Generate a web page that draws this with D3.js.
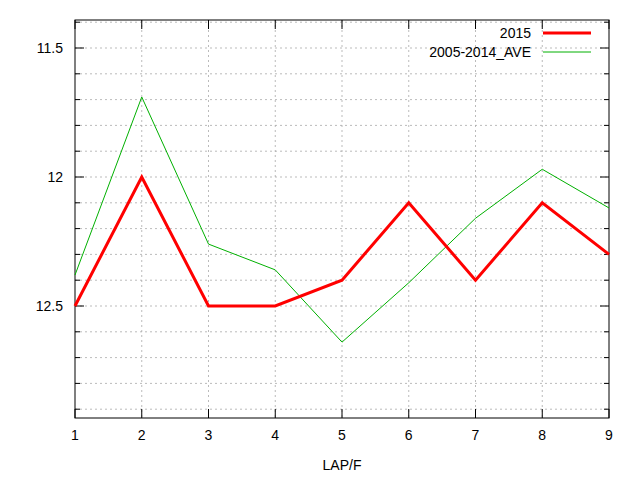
<!DOCTYPE html>
<html><head><meta charset="utf-8">
<script src="https://cdn.jsdelivr.net/npm/d3@7"></script>
<style>body{margin:0;background:#fff}</style></head>
<body><svg id="c" width="640" height="480"></svg>
<script>
const laps=[1,2,3,4,5,6,7,8,9];
const s2015=[12.5,12.0,12.5,12.5,12.4,12.1,12.4,12.1,12.3];
const sAve=[12.38,11.69,12.26,12.36,12.64,12.41,12.16,11.97,12.12];
const yTicks=[11.5,12,12.5];
const yGrid=d3.range(11.4,12.95,0.1).map(v=>+v.toFixed(1));
const svg=d3.select("#c");
const L=75,R=609,T=20,B=418;
const x=d3.scaleLinear().domain([1,9]).range([L,R]);
const y=d3.scaleLinear().domain([11.5,12.5]).range([48,306]);
const g=svg.append("g").attr("font-family","Liberation Sans, Arial").attr("font-size",14);
yGrid.filter(v=>y(v)>T&&y(v)<B).forEach(v=>{
 g.append("line").attr("x1",L).attr("x2",R).attr("y1",y(v)).attr("y2",y(v)).attr("stroke","#aaa").attr("stroke-dasharray","2,3").attr("stroke-width",0.8);
 const len=yTicks.includes(v)?9:5;
 g.append("line").attr("x1",L).attr("x2",L+len).attr("y1",y(v)).attr("y2",y(v)).attr("stroke","#000");
 g.append("line").attr("x1",R).attr("x2",R-len).attr("y1",y(v)).attr("y2",y(v)).attr("stroke","#000");
});
laps.forEach(v=>{
 if(v>1&&v<9) g.append("line").attr("x1",x(v)).attr("x2",x(v)).attr("y1",T).attr("y2",B).attr("stroke","#aaa").attr("stroke-dasharray","2,3").attr("stroke-width",0.8);
 g.append("line").attr("x1",x(v)).attr("x2",x(v)).attr("y1",B).attr("y2",B-9).attr("stroke","#000");
 g.append("line").attr("x1",x(v)).attr("x2",x(v)).attr("y1",T).attr("y2",T+9).attr("stroke","#000");
 g.append("text").attr("x",x(v)).attr("y",B+22).attr("text-anchor","middle").text(v);
});
yTicks.forEach(v=>g.append("text").attr("x",L-12).attr("y",y(v)+5).attr("text-anchor","end").text(v));
g.append("rect").attr("x",L).attr("y",T).attr("width",R-L).attr("height",B-T).attr("fill","none").attr("stroke","#000");
g.append("text").attr("x",(L+R)/2).attr("y",470).attr("text-anchor","middle").text("LAP/F");
const line=d3.line().x((d,i)=>x(laps[i])).y(d=>y(d));
g.append("path").datum(sAve).attr("d",line).attr("fill","none").attr("stroke","#00b000").attr("stroke-width",1);
g.append("path").datum(s2015).attr("d",line).attr("fill","none").attr("stroke","#ff0000").attr("stroke-width",3);
g.append("text").attr("x",531).attr("y",38).attr("text-anchor","end").text("2015");
g.append("line").attr("x1",543).attr("x2",591).attr("y1",33).attr("y2",33).attr("stroke","#ff0000").attr("stroke-width",3);
g.append("text").attr("x",531).attr("y",57).attr("text-anchor","end").text("2005-2014_AVE");
g.append("line").attr("x1",543).attr("x2",591).attr("y1",52).attr("y2",52).attr("stroke","#00b000").attr("stroke-width",1);
</script></body></html>
